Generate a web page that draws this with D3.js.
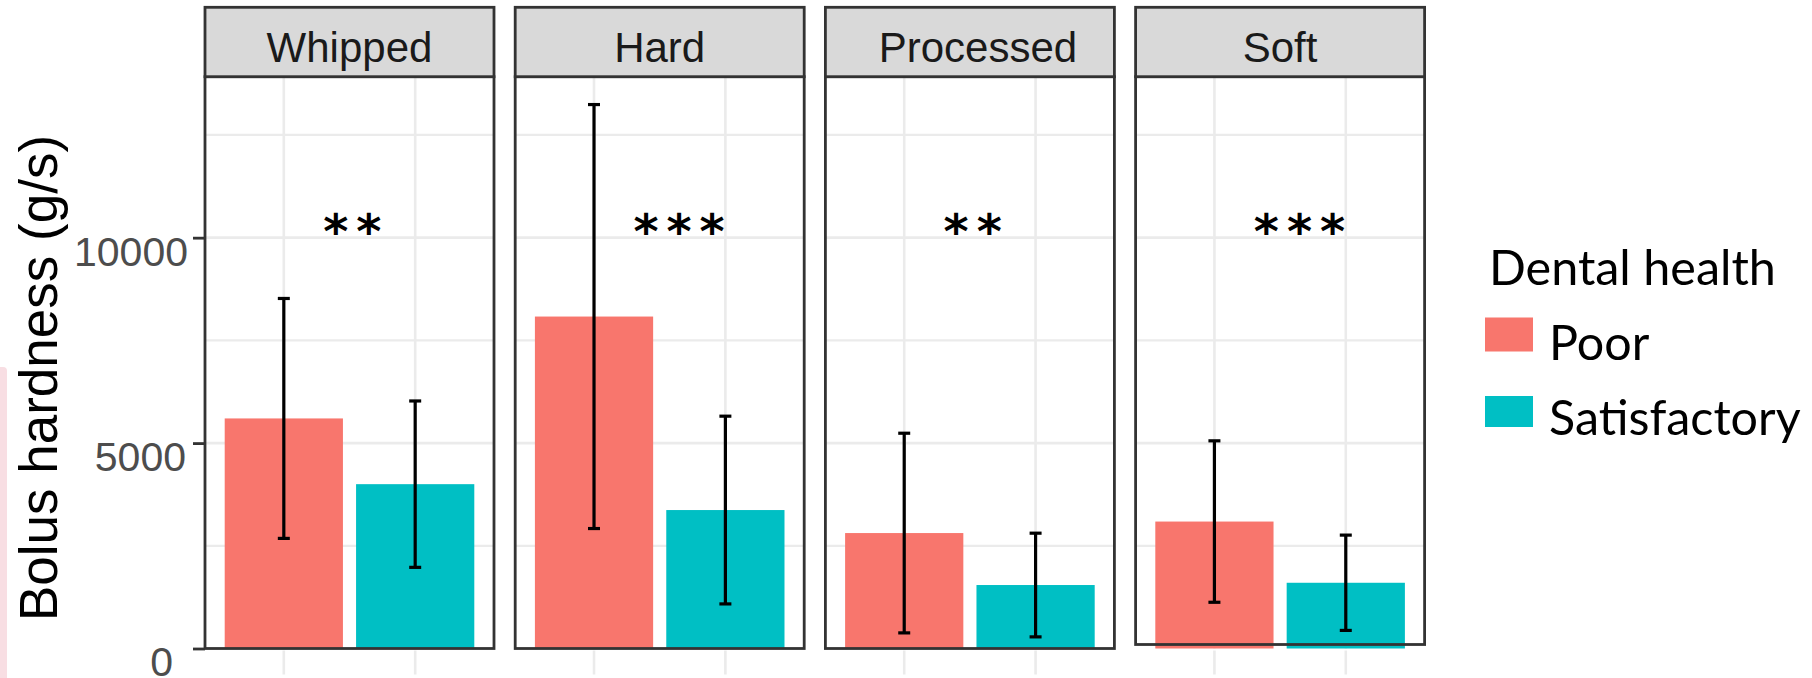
<!DOCTYPE html>
<html><head><meta charset="utf-8">
<script src="https://cdn.jsdelivr.net/npm/d3@7"></script>
<style>body{margin:0;background:#fff;} svg{display:block;}</style>
</head><body>
<svg id="chart" width="1812" height="678"></svg>
<script>
// ---- data ----
const categories = ["Whipped", "Hard", "Processed", "Soft"];
const groups = ["Poor", "Satisfactory"];
const poorMean = [5600, 8080, 2810, 3090];
const poorErr  = [2920, 5160, 2430, 1965];
const satMean  = [4000, 3370, 1545, 1600];
const satErr   = [2025, 2285, 1262, 1160];
const significance = ["**", "***", "**", "***"];
const yTicks = [0, 5000, 10000];
const yMinorTicks = [2500, 7500, 12500];
const yTitle = "Bolus hardness (g/s)";
const legendTitle = "Dental health";

// ---- layout ----
const colors = {Poor: "#F8766D", Satisfactory: "#00BFC4"};
const svg = d3.select("#chart");
const panelX0 = 205, panelStep = 310.2, panelW = 289;
const stripTop = 7.3, panelTop = 76.7, panelBottom = 648.5;
const borderCol = "#333333", gridCol = "#EBEBEB";

const rows = categories.map((c, i) => ({
  cat: c, sig: significance[i],
  vals: [
    {g: "Poor", mean: poorMean[i], err: poorErr[i]},
    {g: "Satisfactory", mean: satMean[i], err: satErr[i]}
  ]
}));

const fx = d3.scaleBand().domain(categories)
  .range([panelX0, panelX0 + panelStep * 4 - (panelStep - panelW)])
  .paddingInner((panelStep - panelW) / panelStep).paddingOuter(0);
const x = d3.scaleBand().domain(groups).range([0, panelW]).paddingInner(0.1).paddingOuter(0.15);
const xc = d3.scaleLinear().domain([0.4, 2.6]).range([0, panelW]);
const y = d3.scaleLinear().domain([0, 13918]).range([panelBottom, panelTop]);

// stray pink artifact at left edge
svg.append("path")
  .attr("d", `M0,678 L0,367 L3,367 Q7,367 7,371 L7,678 Z`)
  .attr("fill", "#F8DEE3");

const panels = svg.selectAll("g.panel").data(rows).join("g")
  .attr("class", "panel")
  .attr("transform", d => `translate(${fx(d.cat)},0)`);

// grid
panels.each(function(d) {
  const g = d3.select(this);
  g.selectAll("line.hmin").data(yMinorTicks).join("line")
    .attr("x1", 0).attr("x2", panelW)
    .attr("y1", v => y(v)).attr("y2", v => y(v))
    .attr("stroke", gridCol).attr("stroke-width", 2.2);
  g.selectAll("line.hmaj").data(yTicks.slice(1)).join("line")
    .attr("x1", 0).attr("x2", panelW)
    .attr("y1", v => y(v)).attr("y2", v => y(v))
    .attr("stroke", gridCol).attr("stroke-width", 2.6);
  g.selectAll("line.vmaj").data(groups).join("line")
    .attr("x1", k => x(k) + x.bandwidth() / 2).attr("x2", k => x(k) + x.bandwidth() / 2)
    .attr("y1", panelTop).attr("y2", panelBottom)
    .attr("stroke", gridCol).attr("stroke-width", 2.6);
  // light tick stubs below panel
  g.selectAll("line.vtick").data(groups).join("line")
    .attr("x1", k => x(k) + x.bandwidth() / 2).attr("x2", k => x(k) + x.bandwidth() / 2)
    .attr("y1", panelBottom + 2).attr("y2", panelBottom + 26)
    .attr("stroke", gridCol).attr("stroke-width", 2.6);
});

// bars
panels.selectAll("rect.bar").data(d => d.vals).join("rect")
  .attr("class", "bar")
  .attr("x", v => x(v.g)).attr("width", x.bandwidth())
  .attr("y", v => y(v.mean)).attr("height", v => y(0) - y(v.mean))
  .attr("fill", v => colors[v.g]);

// error bars
const capW = 12;
const eb = panels.selectAll("g.eb").data(d => d.vals).join("g").attr("class", "eb")
  .attr("transform", v => `translate(${x(v.g) + x.bandwidth() / 2},0)`);
eb.append("line").attr("x1", 0).attr("x2", 0)
  .attr("y1", v => y(v.mean + v.err)).attr("y2", v => y(v.mean - v.err))
  .attr("stroke", "#000").attr("stroke-width", 3.2);
eb.append("line").attr("x1", -capW / 2).attr("x2", capW / 2)
  .attr("y1", v => y(v.mean + v.err)).attr("y2", v => y(v.mean + v.err))
  .attr("stroke", "#000").attr("stroke-width", 3.2);
eb.append("line").attr("x1", -capW / 2).attr("x2", capW / 2)
  .attr("y1", v => y(v.mean - v.err)).attr("y2", v => y(v.mean - v.err))
  .attr("stroke", "#000").attr("stroke-width", 3.2);

// significance labels
panels.append("text")
  .attr("x", xc(1.3)).attr("y", 248)
  .attr("font-family", "DejaVu Sans").attr("font-weight", "bold")
  .attr("font-size", 48).attr("letter-spacing", 8)
  .attr("fill", "#000")
  .text(d => d.sig);

// panel border
panels.append("rect")
  .attr("x", 0).attr("y", panelTop)
  .attr("width", panelW)
  .attr("height", d => (d.cat === "Soft" ? panelBottom - 4 : panelBottom) - panelTop)
  .attr("fill", "none").attr("stroke", borderCol).attr("stroke-width", 2.8);

// strips
panels.append("rect")
  .attr("x", 0).attr("y", stripTop).attr("width", panelW).attr("height", panelTop - stripTop)
  .attr("fill", "#D9D9D9").attr("stroke", borderCol).attr("stroke-width", 2.8);
panels.append("text")
  .attr("x", d => panelW / 2 + (d.cat === "Processed" ? 8 : 0)).attr("y", 62)
  .attr("text-anchor", "middle")
  .attr("font-family", "Liberation Sans, Arial, sans-serif").attr("font-size", 42)
  .attr("fill", "#1A1A1A")
  .text(d => d.cat);

// y axis
const yAxis = d3.axisLeft(y).tickValues(yTicks).tickSize(12).tickPadding(5).tickFormat(d3.format("d"));
const ya = svg.append("g").attr("transform", `translate(${panelX0},0)`).call(yAxis);
ya.select(".domain").remove();
ya.selectAll(".tick line").attr("stroke", borderCol).attr("stroke-width", 2.8);
ya.selectAll(".tick text")
  .attr("font-family", "Liberation Sans, Arial, sans-serif").attr("font-size", 41)
  .attr("fill", "#4D4D4D").attr("dy", "0.67em")
  .attr("x", d => d === 0 ? -32 : (d === 5000 ? -19 : -17));

// y title
svg.append("text")
  .attr("transform", `translate(57,378) rotate(-90)`)
  .attr("text-anchor", "middle")
  .attr("font-family", "Liberation Sans, Arial, sans-serif").attr("font-size", 53)
  .attr("fill", "#000")
  .text(yTitle);

// legend
const lg = svg.append("g");
lg.append("text").attr("x", 1489).attr("y", 285)
  .attr("font-family", "Lato").attr("font-size", 48.5).attr("fill", "#000")
  .text(legendTitle);
const keyY = {Poor: [317.5, 351.5], Satisfactory: [396, 427]};
const labY = {Poor: 360, Satisfactory: 435};
groups.forEach(gk => {
  lg.append("rect").attr("x", 1485).attr("y", keyY[gk][0])
    .attr("width", 48).attr("height", keyY[gk][1] - keyY[gk][0])
    .attr("fill", colors[gk]);
  lg.append("text").attr("x", 1549).attr("y", labY[gk])
    .attr("font-family", "Lato").attr("font-size", 48.4).attr("fill", "#000")
    .text(gk);
});
</script>
</body></html>
